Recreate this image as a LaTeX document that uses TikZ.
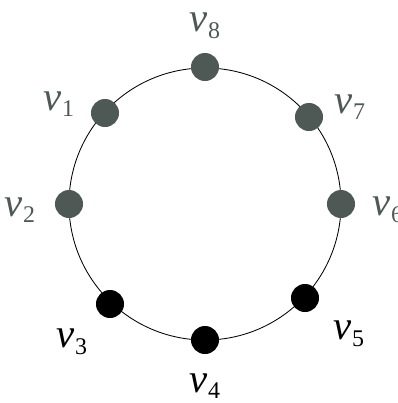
\documentclass[tikz,border=0pt]{standalone}
\usepackage{fontspec}
\setmainfont{Liberation Serif}
\usepackage{tikz}
\usetikzlibrary{positioning, calc}
\definecolor{vgray}{RGB}{78,88,84}
\newcommand{\vlab}[1]{\textit{v}\raisebox{-0.35ex}{\fontsize{17}{18}\selectfont #1}}

\begin{document}
\begin{tikzpicture}[
    x=0.025cm, y=-0.025cm,
    vertex/.style={circle, fill=black, inner sep=0pt, minimum size=0.7cm},
    gvertex/.style={vertex, fill=vgray},
    vname/.style={font=\fontsize{29}{31}\selectfont, inner sep=0pt, anchor=center},
    gvname/.style={vname, text=vgray}
]
\useasboundingbox (0,0) rectangle (398,403);
\coordinate (ctr) at (205,204);
\draw[line width=0.6pt] (ctr) circle[radius=3.4cm];

\node[gvertex] (v1) at (105,113) {};
\node[gvertex] (v2) at (69,204) {};
\node[vertex]  (v3) at (110,304) {};
\node[vertex]  (v4) at (205,340) {};
\node[vertex]  (v5) at (305,298) {};
\node[gvertex] (v6) at (341,204) {};
\node[gvertex] (v7) at (309,117) {};
\node[gvertex] (v8) at (205,67) {};

\node[gvname] (l1) at (59,104) {\vlab{1}};
\node[gvname] (l2) at (20,210) {\vlab{2}};
\node[vname]  (l3) at (72,342) {\vlab{3}};
\node[vname]  (l4) at (205,386) {\vlab{4}};
\node[vname]  (l5) at (349,334) {\vlab{5}};
\node[gvname] (l6) at (388,210) {\vlab{6}};
\node[gvname] (l7) at (350,107) {\vlab{7}};
\node[gvname] (l8) at (205,26) {\vlab{8}};
\end{tikzpicture}
\end{document}
